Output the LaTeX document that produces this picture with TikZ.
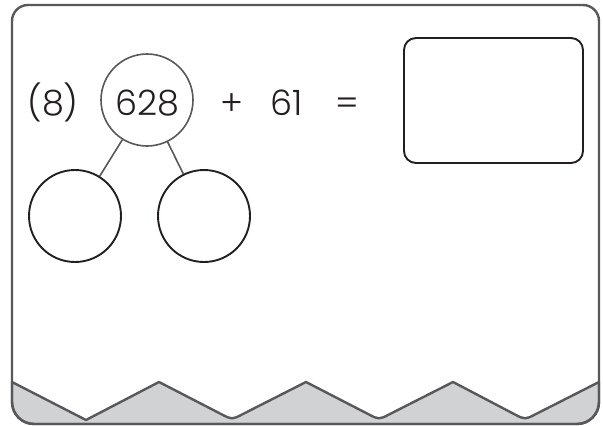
\documentclass[tikz,border=0pt]{standalone}
\usepackage{fontspec}
\setmainfont{Poppins}[UprightFont={* Light}]
\definecolor{framegray}{HTML}{58585A}
\definecolor{bandgray}{HTML}{D1D2D4}
\definecolor{inkblack}{HTML}{231F20}

\begin{document}
\begin{tikzpicture}[x=1pt,y=-1pt,
  num/.style={font=\fontsize{35}{40}\selectfont, text=inkblack, anchor=base},
  whole/.style={circle, draw=framegray, line width=1.6pt, minimum size=92pt, inner sep=0pt},
  part/.style={circle, draw=inkblack, line width=1.9pt, minimum size=92pt, inner sep=0pt},
  answerbox/.style={draw=inkblack, line width=1.9pt, rounded corners=12pt, minimum width=179pt, minimum height=125pt}]
\useasboundingbox (0,0) rectangle (603,426);

%band
\filldraw[fill=bandgray, draw=framegray, line width=2.4pt, line join=round]
  (12,382) -- (86,420) -- (159,382)
  -- (221.4,414.2) .. controls (232,419.7) .. (242.6,414.2) -- (306,382)
  -- (368.4,414.2) .. controls (379,419.7) .. (389.6,414.2) -- (453,382)
  -- (514.4,414.2) .. controls (525,419.7) .. (535.6,414.2) -- (599,382)
  -- (599,400) [rounded corners=22pt] -- (599,424) -- (12,424) [sharp corners] -- (12,400) -- cycle;

%frame
\draw[framegray, line width=2.4pt] (12,200) [rounded corners=16pt] -- (12,5) -- (599,5) -- (599,300)
  [rounded corners=22pt] -- (599,424) -- (12,424) [sharp corners] -- cycle;

%number bond
\node[whole] (whole) at (147,100) {};
\node[num] (wholetext) at (147,115) {628};
\node[part] (left) at (75,216) {};
\node[part] (right) at (204,216) {};
\draw[framegray, line width=1.6pt] (whole) -- (left);
\draw[framegray, line width=1.6pt] (whole) -- (right);

%sum
\node[num] (label) at (53,115) {(8)};
\node[num] (plus) at (232,115) {+};
\node[num] (addend) at (287,115) {61};
\node[num] (equals) at (347.5,115) {=};
\node[answerbox] (answer) at (493.5,100.5) {};

\end{tikzpicture}
\end{document}
